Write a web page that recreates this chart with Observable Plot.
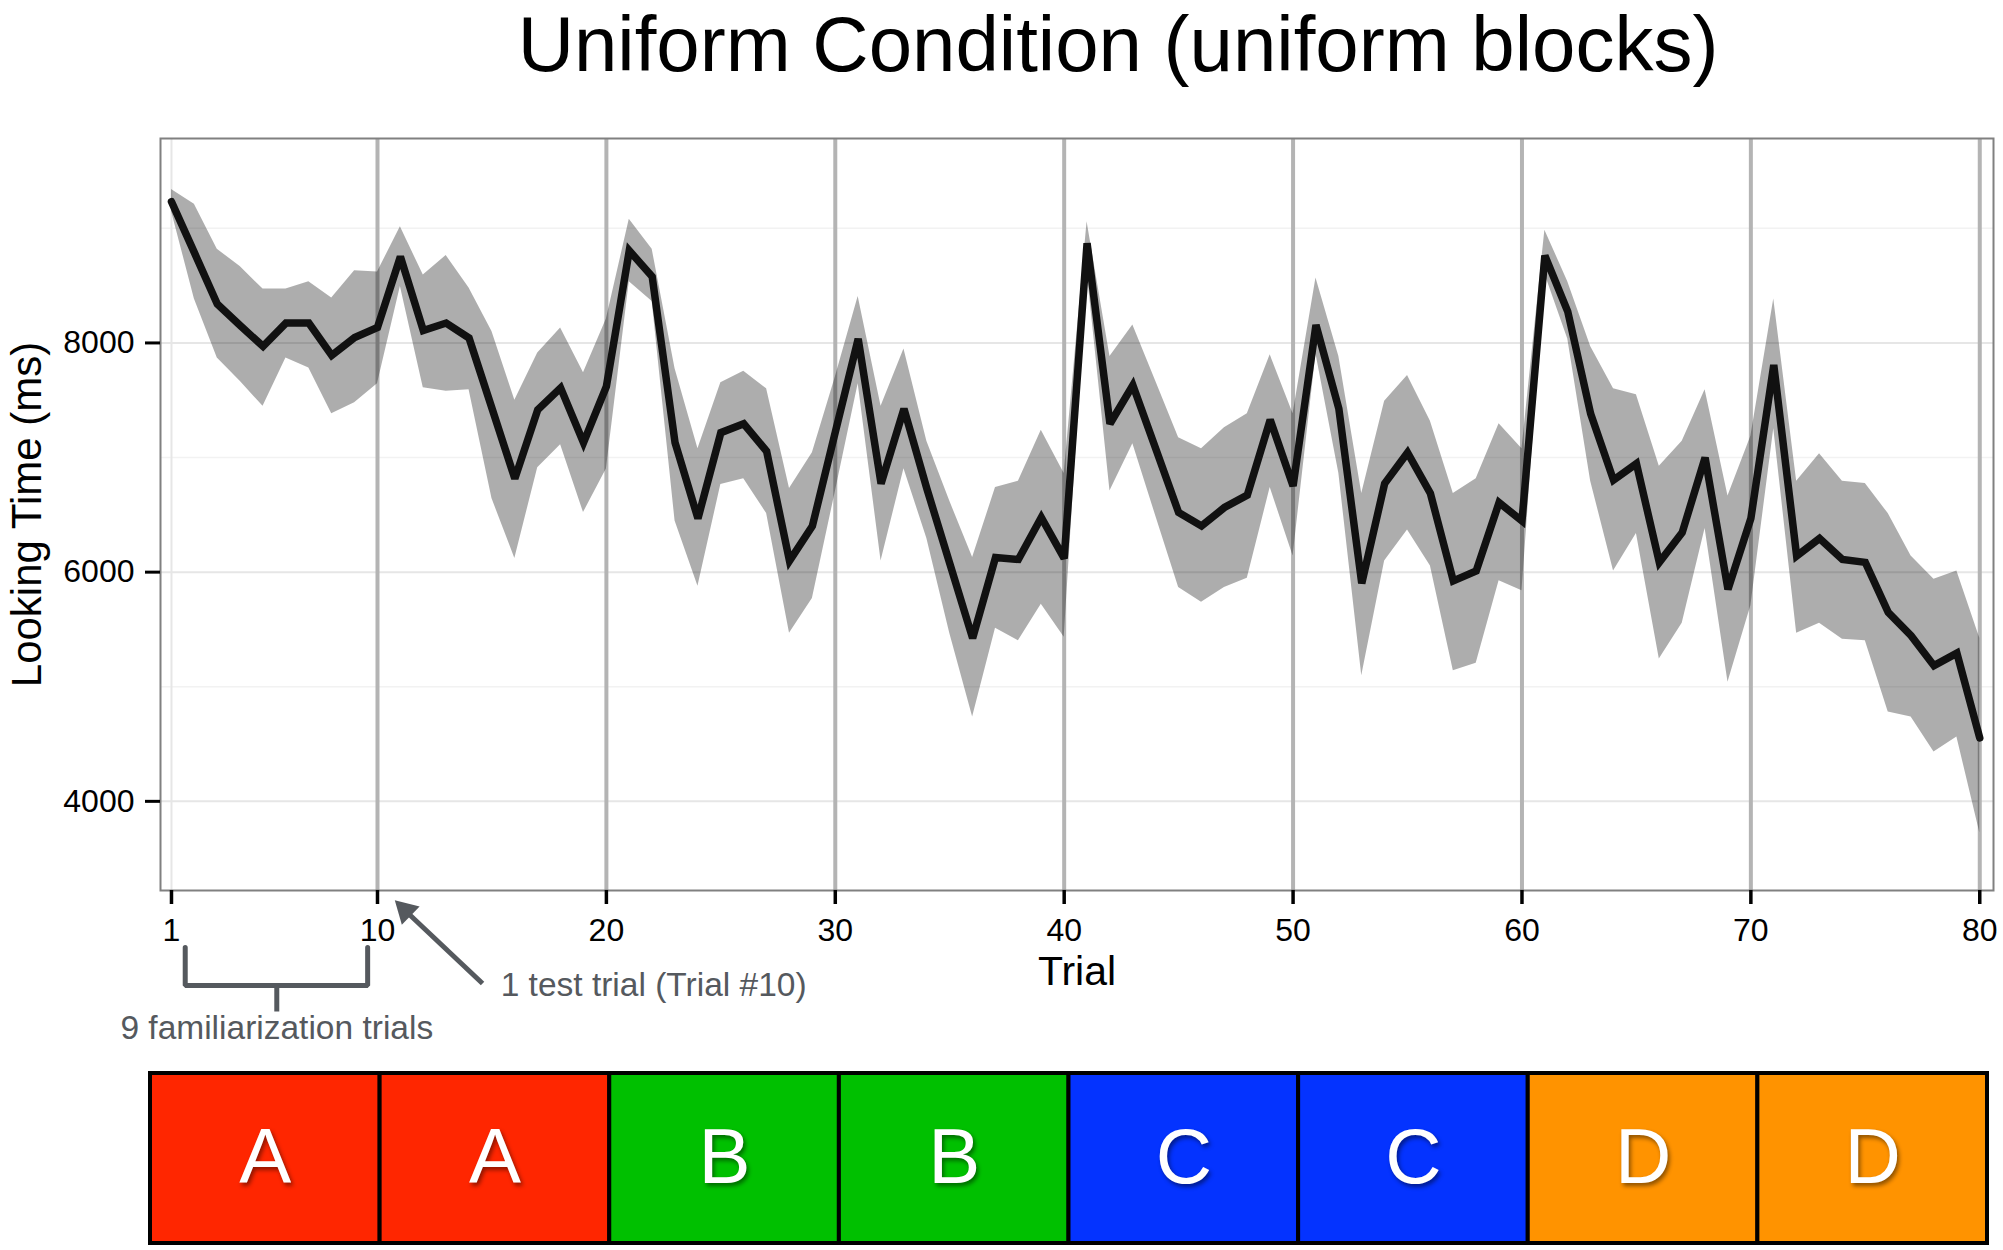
<!DOCTYPE html>
<html>
<head>
<meta charset="utf-8">
<script src="https://cdn.jsdelivr.net/npm/d3@7"></script>
<script src="https://cdn.jsdelivr.net/npm/@observablehq/plot@0.6"></script>
<style>
  html, body { margin: 0; padding: 0; background: #fff; }
  #root { position: relative; width: 2003px; height: 1250px; background: #fff; font-family: "Liberation Sans", Arial, sans-serif; overflow: hidden; }
  #title { position: absolute; left: 233px; top: 5px; width: 1770px; text-align: center; font-size: 78px; line-height: 78px; color: #000; }
  #main { position: absolute; left: 0; top: 100px; }
  #blocks { position: absolute; left: 0; top: 1060px; }
</style>
</head>
<body>
<div id="root">
  <div id="title">Uniform Condition (uniform blocks)</div>
  <div id="main"></div>
  <div id="blocks"></div>
</div>
<script>
// ---- data ----
const trials = d3.range(1, 81);
const meanLT = [9232, 8788, 8340, 8152, 7970, 8174, 8174, 7891, 8048, 8135,
  8753, 8109, 8174, 8043, 7430, 6816, 7417, 7608, 7130, 7621,
  8805, 8579, 7130, 6468, 7217, 7295, 7055, 6098, 6403, 7221,
  8035, 6773, 7425, 6729, 6076, 5423, 6128, 6111, 6477, 6120,
  8870, 7295, 7630, 7077, 6520, 6403, 6564, 6672, 7330, 6751,
  8157, 7425, 5902, 6773, 7042, 6686, 5924, 6011, 6607, 6446,
  8762, 8274, 7382, 6803, 6947, 6085, 6346, 6999, 5850, 6468,
  7808, 6141, 6294, 6111, 6085, 5650, 5445, 5184, 5293, 4553];
const upperLT = [9340, 9210, 8818, 8666, 8470, 8470, 8535, 8392, 8631, 8618,
  9014, 8592, 8762, 8479, 8100, 7500, 7913, 8130, 7739, 8209,
  9079, 8818, 7774, 7077, 7652, 7752, 7600, 6729, 7042, 7700,
  8405, 7447, 7948, 7143, 6620, 6128, 6738, 6794, 7238, 6860,
  9058, 7882, 8157, 7665, 7173, 7077, 7260, 7382, 7896, 7382,
  8566, 7882, 6686, 7491, 7717, 7317, 6686, 6816, 7295, 7077,
  8984, 8535, 7970, 7600, 7547, 6925, 7143, 7591, 6664, 7186,
  8383, 6794, 7034, 6794, 6773, 6511, 6141, 5937, 6011, 5423];
const lowerLT = [9150, 8383, 7869, 7665, 7447, 7869, 7782, 7382, 7478, 7643,
  8492, 7608, 7578, 7591, 6642, 6120, 6912, 7112, 6520, 6900,
  8535, 8361, 6446, 5878, 6764, 6816, 6511, 5467, 5771, 6700,
  7643, 6098, 6903, 6294, 5467, 4736, 5510, 5402, 5719, 5432,
  8622, 6707, 7121, 6490, 5867, 5737, 5867, 5946, 6738, 6141,
  7904, 6860, 5097, 6098, 6368, 6054, 5140, 5206, 5924, 5837,
  8601, 8035, 6794, 6011, 6337, 5241, 5554, 6381, 5040, 5706,
  7251, 5467, 5554, 5415, 5402, 4779, 4736, 4431, 4562, 3726];
const xTicks = [1, 10, 20, 30, 40, 50, 60, 70, 80];
const blockBoundaries = [10, 20, 30, 40, 50, 60, 70, 80];
const yTicks = [4000, 6000, 8000];
const yMinor = [5000, 7000, 9000];
const blockLabels = ["A", "A", "B", "B", "C", "C", "D", "D"];
const blockCategories = ["A", "B", "C", "D"];
const blockPalette = ["#FF2600", "#00C000", "#0433FF", "#FF9300"];

const rows = trials.map((t, i) => ({trial: t, mean: meanLT[i], lo: lowerLT[i], hi: upperLT[i]}));

// ---- main chart ----
const W = 2003, H = 960, mT = 38, mB = 170, mL = 160, mR = 10;
const yDomain = [3222, 9784];
const frameH = H - mT - mB;
const yBelow = px => yDomain[0] - px * (yDomain[1] - yDomain[0]) / frameH; // pixels below frame bottom
const annoColor = "#55595e";

const bracket = [
  {x: 1.6, y: yBelow(57)}, {x: 1.6, y: yBelow(95)},
  {x: 9.57, y: yBelow(95)}, {x: 9.57, y: yBelow(57)}
];

const main = Plot.plot({
  width: W, height: H,
  marginTop: mT, marginBottom: mB, marginLeft: mL, marginRight: mR,
  style: {fontFamily: "'Liberation Sans', Arial, sans-serif", background: "transparent", overflow: "visible"},
  x: {domain: [0.52, 80.6]},
  y: {domain: yDomain},
  marks: [
    Plot.ruleY(yMinor, {stroke: "#f2f2f2", strokeWidth: 1.5}),
    Plot.ruleY(yTicks, {stroke: "#e6e6e6", strokeWidth: 2}),
    Plot.ruleX([1], {stroke: "#e6e6e6", strokeWidth: 2}),
    Plot.ruleX(blockBoundaries, {stroke: "#b4b4b4", strokeWidth: 4}),
    Plot.areaY(rows, {x: "trial", y1: "lo", y2: "hi", fill: "#000", fillOpacity: 0.32}),
    Plot.line(rows, {x: "trial", y: "mean", stroke: "#111", strokeWidth: 7.5, strokeLinejoin: "miter", strokeMiterlimit: 3}),
    Plot.frame({stroke: "#808080", strokeWidth: 2}),
    Plot.axisY({ticks: yTicks, tickSize: 15, tickPadding: 11, fontSize: 32, strokeWidth: 3, tickFormat: d => String(d), label: null}),
    Plot.axisX({ticks: xTicks, tickSize: 14, tickPadding: 14, fontSize: 32, strokeWidth: 3.5, tickFormat: d => String(d), label: null}),
    Plot.text(["Trial"], {frameAnchor: "bottom", dy: 94, lineAnchor: "bottom", textAnchor: "middle", fontSize: 41, fill: "#000"}),
    Plot.text(["Looking Time (ms)"], {frameAnchor: "left", dx: -120, rotate: -90, lineAnchor: "bottom", textAnchor: "middle", fontSize: 42, fill: "#000"}),
    // annotations
    Plot.line(bracket, {x: "x", y: "y", stroke: annoColor, strokeWidth: 5, strokeLinejoin: "miter"}),
    Plot.link([{x: 5.6}], {x1: "x", x2: "x", y1: () => yBelow(95), y2: () => yBelow(121), stroke: annoColor, strokeWidth: 5}),
    Plot.text(["9 familiarization trials"], {x: () => 5.6, y: () => yBelow(148), lineAnchor: "bottom", textAnchor: "middle", fontSize: 33.5, fill: annoColor}),
    Plot.link([{x1: 14.59, x2: 11.3}], {x1: "x1", x2: "x2", y1: () => yBelow(93), y2: () => yBelow(22), stroke: annoColor, strokeWidth: 5}),
    Plot.dot([{x: 11.22}], {x: "x", y: () => yBelow(20), symbol: "triangle", r: 9.5, rotate: -46, fill: annoColor, stroke: "none"}),
    Plot.text(["1 test trial (Trial #10)"], {x: () => 15.38, y: () => yBelow(105), lineAnchor: "bottom", textAnchor: "start", fontSize: 33.5, fill: annoColor})
  ]
});
document.getElementById("main").appendChild(main);

// ---- block strip ----
const blocks = blockLabels.map((label, i) => ({i, label}));
const strip = Plot.plot({
  width: W, height: 190,
  marginTop: 13, marginBottom: 7, marginLeft: 150, marginRight: 16,
  style: {fontFamily: "'Liberation Sans', Arial, sans-serif", background: "transparent", overflow: "visible"},
  x: {domain: [0, 8], axis: null},
  color: {domain: blockCategories, range: blockPalette},
  marks: [
    Plot.rect(blocks, {x1: "i", x2: d => d.i + 1, fill: "label", stroke: "#000", strokeWidth: 4}),
    Plot.text(blocks, {x: d => d.i + 0.5, text: "label", frameAnchor: "middle", lineAnchor: "middle", textAnchor: "middle", fontSize: 78, fill: "#fff"})
  ]
});
document.getElementById("blocks").appendChild(strip);
strip.querySelectorAll('g[aria-label="text"]').forEach(g => {
  g.style.filter = "drop-shadow(2px 3px 2px rgba(0,0,0,0.45))";
});
</script>
</body>
</html>
